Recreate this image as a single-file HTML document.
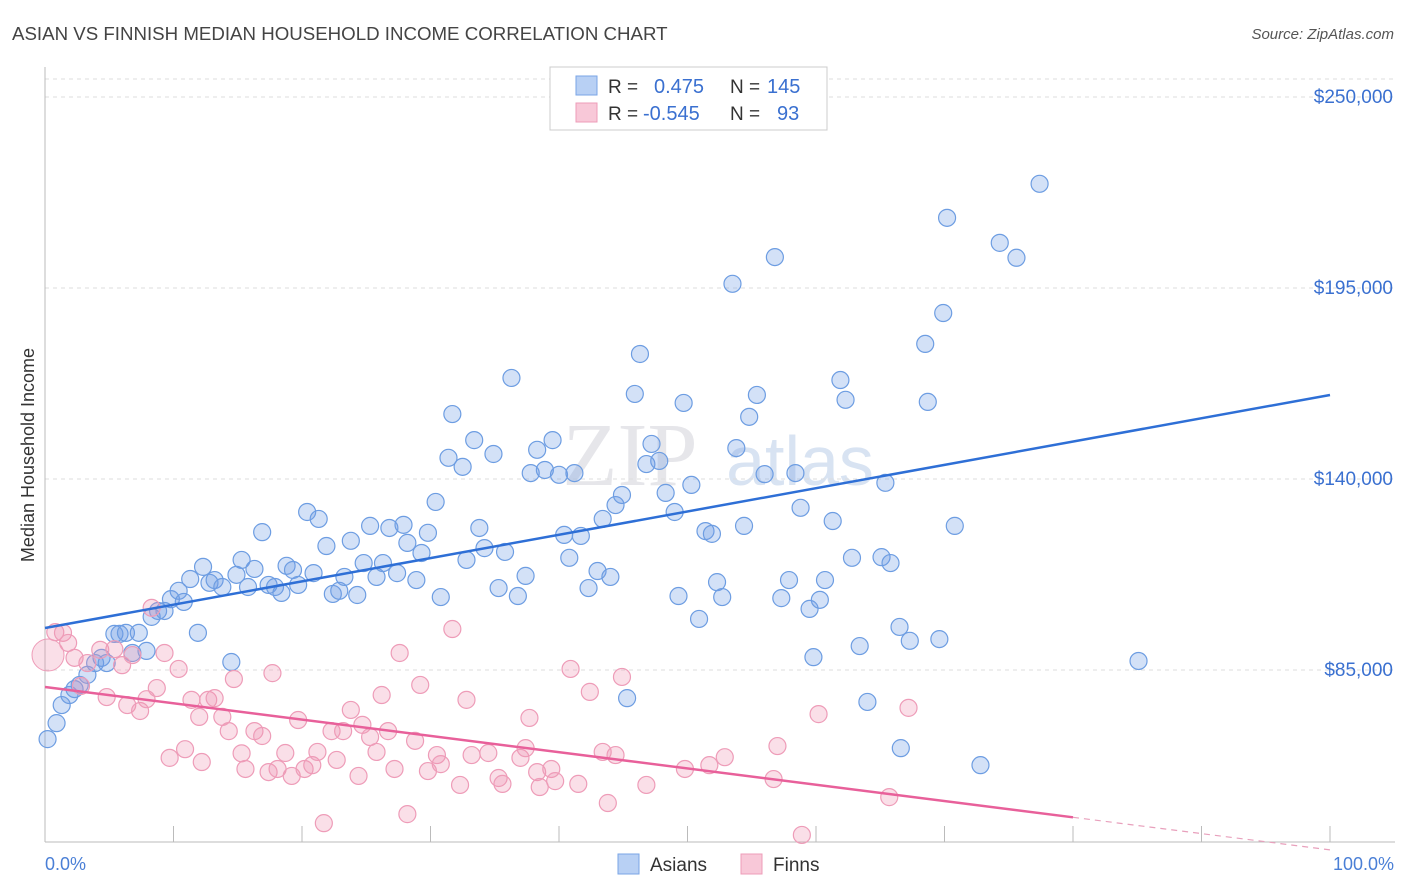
<!DOCTYPE html>
<html><head><meta charset="utf-8"><style>
body{margin:0;background:#fff;font-family:"Liberation Sans",sans-serif;}
#c{position:relative;width:1406px;height:892px;overflow:hidden}
</style></head><body>
<div id="c">
<svg id="s" width="1406" height="892" xmlns="http://www.w3.org/2000/svg">
<text x="12" y="40" font-size="18.7" fill="#444">ASIAN VS FINNISH MEDIAN HOUSEHOLD INCOME CORRELATION CHART</text>
<text x="1394" y="39" font-size="15" fill="#555" font-style="italic" text-anchor="end">Source: ZipAtlas.com</text>
<text x="630" y="485" font-size="90" fill="#e6e6ea" font-family="Liberation Serif,serif" text-anchor="middle">ZIP</text>
<text x="800" y="485" font-size="70" fill="#d8e3f2" text-anchor="middle">atlas</text>
<text x="34" y="455" font-size="18" fill="#333" text-anchor="middle" transform="rotate(-90 34 455)">Median Household Income</text>
<g id="grid"></g><g id="pts"></g><g id="lines"></g>
<text x="45" y="870" font-size="18" fill="#4a7fd6">0.0%</text>
<text x="1394" y="870" font-size="18" fill="#4a7fd6" text-anchor="end">100.0%</text>
<g>
<rect x="550" y="67" width="277" height="63" fill="#fff" stroke="#ccc"/>
<rect x="576" y="76" width="21" height="19" fill="#b8d0f4" stroke="#7aa5e6"/>
<rect x="576" y="103" width="21" height="19" fill="#f8c8d8" stroke="#ee9cb8"/>
<text x="608" y="93" font-size="19" fill="#333">R = </text><text x="654" y="93" font-size="20" fill="#3a70d0">0.475</text>
<text x="730" y="93" font-size="19" fill="#333">N = </text><text x="767" y="93" font-size="20" fill="#3a70d0">145</text>
<text x="608" y="120" font-size="19" fill="#333">R = </text><text x="643" y="120" font-size="20" fill="#3a70d0">-0.545</text>
<text x="730" y="120" font-size="19" fill="#333">N = </text><text x="777" y="120" font-size="20" fill="#3a70d0">93</text>
</g>
<g><rect x="618" y="854" width="21" height="20" fill="#b8d0f4" stroke="#7aa5e6"/><text x="650" y="871" font-size="19" fill="#333">Asians</text></g>
<g><rect x="741" y="854" width="21" height="20" fill="#f8c8d8" stroke="#ee9cb8"/><text x="773" y="871" font-size="19" fill="#333">Finns</text></g>
</svg></div>
<script>
const yTicks=[85000,140000,195000,250000];
const yTickLabels=["$85,000","$140,000","$195,000","$250,000"];
const asianX=[0.2,0.9,1.3,1.9,2.3,2.7,3.3,3.9,4.4,4.8,5.4,5.8,6.3,6.8,7.3,7.9,8.3,8.8,9.3,9.8,10.4,10.8,11.3,11.9,12.3,12.8,13.2,13.8,14.5,14.9,15.3,15.8,16.3,16.9,17.4,17.9,18.4,18.8,19.3,19.7,20.4,20.9,21.3,21.9,22.4,22.9,23.3,23.8,24.3,24.8,25.3,25.8,26.3,26.8,27.4,27.9,28.2,28.9,29.3,29.8,30.4,30.8,31.4,31.7,32.5,32.8,33.4,33.8,34.2,34.9,35.3,35.8,36.3,36.8,37.4,37.8,38.3,38.9,39.5,40.0,40.4,40.8,41.2,41.7,42.3,43.0,43.4,44.0,44.4,44.9,45.3,45.9,46.3,46.8,47.2,47.8,48.3,49.0,49.3,49.7,50.3,50.9,51.4,51.9,52.3,52.7,53.5,53.8,54.4,54.8,55.4,56.0,56.8,57.3,57.9,58.4,58.8,59.5,59.8,60.3,60.7,61.3,61.9,62.3,62.8,63.4,64.0,65.1,65.4,65.8,66.5,66.6,67.3,68.5,68.7,69.6,69.9,70.2,70.8,72.8,74.3,75.6,77.4,85.1];
const asianY=[65.1,69.7,74.9,77.8,79.5,80.7,83.6,87.0,88.5,87.0,95.4,95.4,95.7,89.9,95.7,90.5,100.3,102.0,102.0,105.4,107.8,104.6,111.2,95.7,114.7,110.1,110.9,108.9,87.3,112.4,116.7,108.9,114.1,124.7,109.5,108.9,107.2,115.0,113.8,109.5,130.5,112.9,128.5,120.7,106.9,107.8,111.8,122.2,106.6,115.8,126.5,111.8,115.8,125.9,112.9,126.8,121.6,110.9,118.7,124.5,133.4,106.0,146.1,158.7,143.5,116.7,151.2,125.9,120.1,147.2,108.6,119.0,169.1,106.3,112.1,141.7,148.4,142.6,151.2,141.2,123.9,117.3,141.7,123.6,108.6,113.5,128.5,111.8,132.5,135.4,76.9,164.5,176.0,144.3,150.1,145.2,136.0,130.5,106.3,161.9,138.3,99.7,125.0,124.2,110.3,106.0,196.2,148.9,126.5,157.9,164.2,141.4,203.9,105.7,110.9,141.7,131.7,102.6,88.7,105.2,110.9,127.9,168.5,162.8,117.3,91.9,75.8,117.5,138.9,115.8,97.4,62.5,93.4,178.9,162.2,93.9,187.8,215.2,126.5,57.6,208.0,203.7,225.0,87.6];
const finnX=[0.8,1.4,1.8,2.3,2.8,3.3,4.3,4.8,5.4,6.0,6.4,6.8,7.4,7.9,8.3,8.7,9.3,9.7,10.4,10.9,11.4,12.0,12.2,12.7,13.2,13.8,14.3,14.7,15.3,15.6,16.3,16.9,17.4,17.7,18.1,18.7,19.2,19.7,20.2,20.8,21.2,21.7,22.3,22.7,23.2,23.8,24.4,24.7,25.3,25.8,26.2,26.7,27.2,27.6,28.2,28.8,29.2,29.8,30.5,30.8,31.7,32.3,32.8,33.2,34.5,35.3,35.6,37.0,37.4,37.7,38.3,38.5,39.4,39.7,40.9,41.5,42.4,43.4,43.8,44.4,44.9,46.8,49.8,51.7,52.9,56.7,57.0,58.9,60.2,65.7,67.2];
const finnY=[95.9,95.7,92.8,88.5,80.4,87.0,90.8,77.2,91.0,86.4,74.9,89.3,73.2,76.6,102.9,79.8,89.9,59.7,85.3,62.2,76.4,71.5,58.5,76.4,76.9,71.5,67.4,82.4,61.0,56.5,67.4,66.0,55.6,84.1,56.5,61.1,54.5,70.6,56.5,57.6,61.4,40.9,67.4,59.1,67.4,73.5,54.5,69.2,65.7,61.4,77.8,67.4,56.5,89.9,43.5,64.6,80.7,55.9,60.5,57.9,96.8,51.9,76.4,60.5,61.1,53.9,52.2,59.7,62.5,71.2,55.6,51.3,56.5,53.0,85.3,52.2,78.7,61.4,46.7,60.5,83.0,51.9,56.5,57.6,59.9,53.6,63.1,37.5,72.3,48.4,74.1];
const asianTrend=[97.1,164.2];
const finnTrend=[80.1,33.2];
const X0=45,X1=1330,Y0=670;
function sx(p){return X0+(X1-X0)*p/100;}
function sy(v){return Y0-(v-85)*191/55;}
const NS="http://www.w3.org/2000/svg";
function mk(t,a,par){const e=document.createElementNS(NS,t);for(const k in a)e.setAttribute(k,a[k]);document.getElementById(par).appendChild(e);return e;}
let g=mk('line',{x1:45,x2:1395,y1:79,y2:79,stroke:'#ddd','stroke-dasharray':'4,4'},'grid');


yTicks.forEach((v,i)=>{
 const y=sy(v/1000);
 const l=mk('line',{x1:45,x2:1395,y1:y,y2:y,stroke:'#ddd','stroke-dasharray':'4,4'},'grid');
 
 
 const t=mk('text',{x:1393,y:y+6,'font-size':19,fill:'#3a70d0','text-anchor':'end'},'grid');
 t.textContent=yTickLabels[i];
 
 
});
let ax=mk('line',{x1:45,x2:45,y1:67,y2:842,stroke:'#bbb'},'grid');


let bx=mk('line',{x1:45,x2:1395,y1:842,y2:842,stroke:'#bbb'},'grid');


for(let i=1;i<=10;i++){const x=sx(i*10);
 const t=mk('line',{x1:x,x2:x,y1:826,y2:842,stroke:'#bbb'},'grid');
 
 }
let big=mk('circle',{cx:48,cy:655,r:16,fill:'rgba(240,150,180,0.3)',stroke:'#ee9cb8','stroke-width':1},'pts');


asianX.forEach((x,i)=>{const c=mk('circle',{cx:sx(x),cy:sy(asianY[i]),r:8.5,fill:'rgba(110,155,230,0.3)',stroke:'#6d9de2','stroke-width':1.2},'pts');
 
 });
finnX.forEach((x,i)=>{const c=mk('circle',{cx:sx(x),cy:sy(finnY[i]),r:8.5,fill:'rgba(240,150,180,0.3)',stroke:'#ee9cb8','stroke-width':1.2},'pts');
 
 });
let a=mk('line',{x1:sx(0),y1:sy(asianTrend[0]),x2:sx(100),y2:sy(asianTrend[1]),stroke:'#2e6fd6','stroke-width':2.5},'lines');


const fy=p=>finnTrend[0]+(finnTrend[1]-finnTrend[0])*p/100;
let f=mk('line',{x1:sx(0),y1:sy(fy(0)),x2:sx(80),y2:sy(fy(80)),stroke:'#e8609a','stroke-width':2.5},'lines');


let fd=mk('line',{x1:sx(80),y1:sy(fy(80)),x2:sx(100),y2:sy(fy(100)),stroke:'#e8a0bc','stroke-width':1.2,'stroke-dasharray':'6,5'},'lines');


</script>
</body></html>
